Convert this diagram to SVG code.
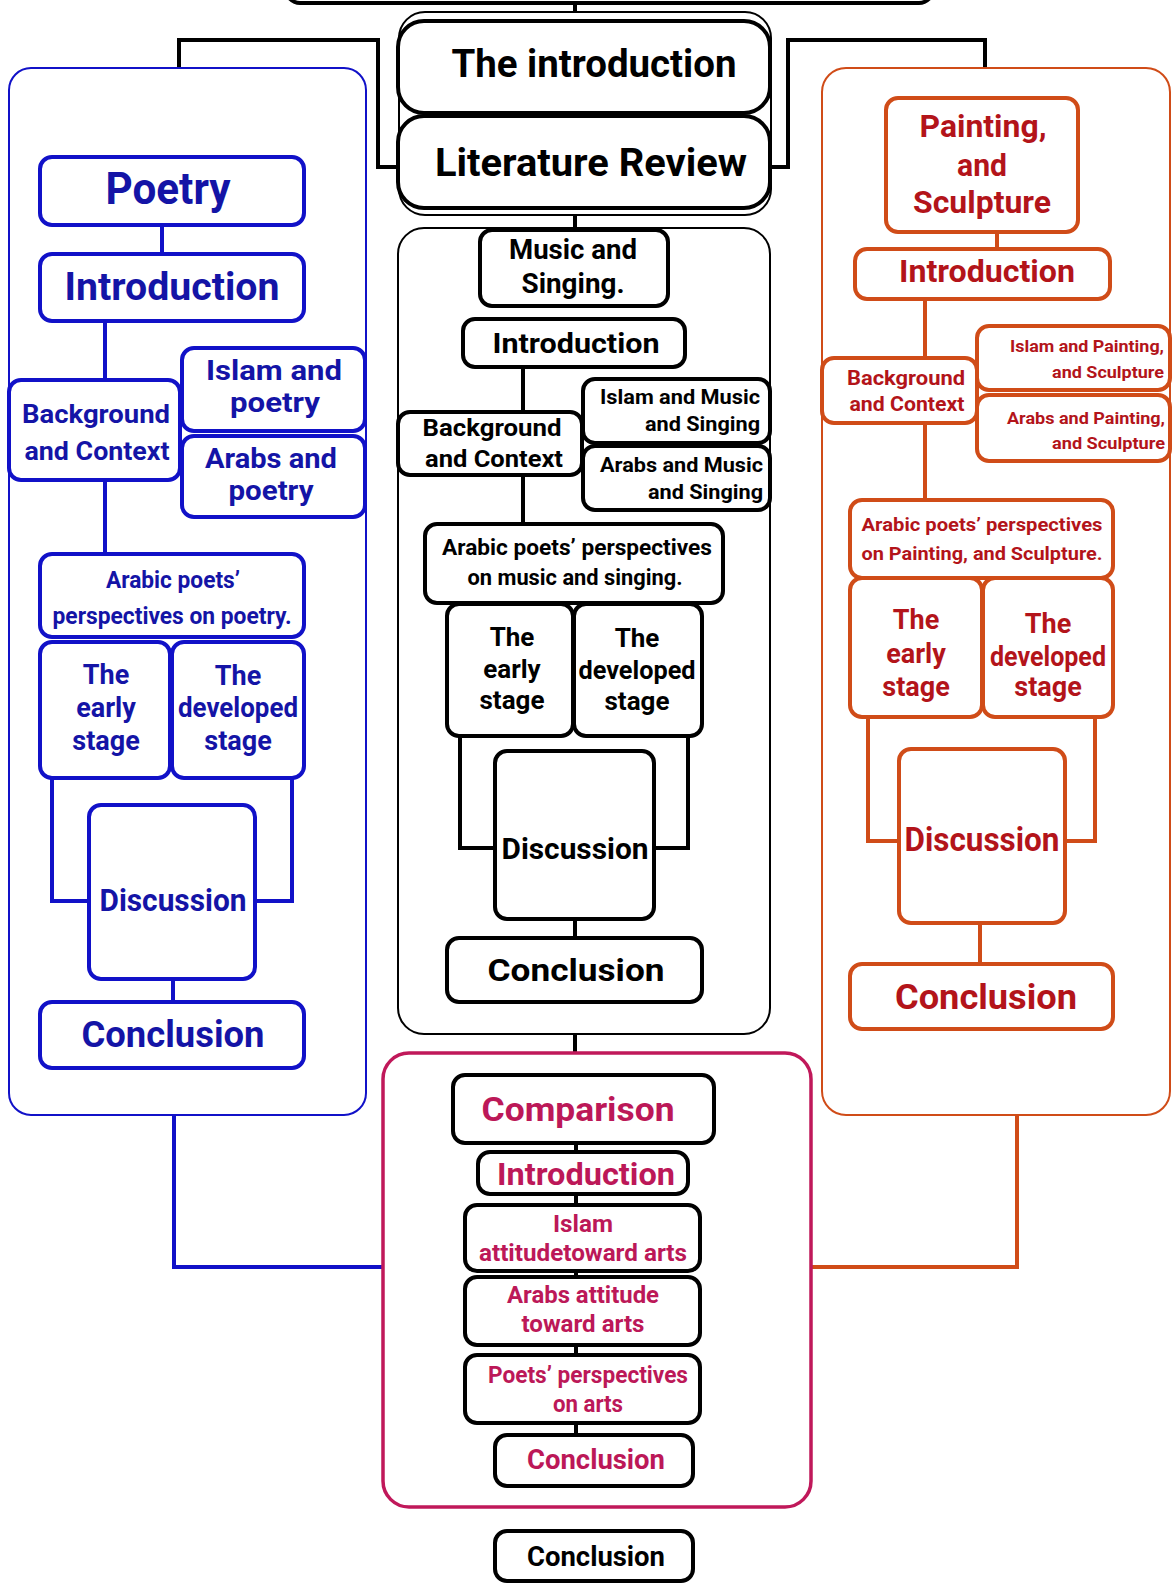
<svg xmlns="http://www.w3.org/2000/svg" width="1172" height="1583" viewBox="0 0 1172 1583">
<style>
text{font-family:Roboto,"Liberation Sans",sans-serif;font-weight:700;text-anchor:middle}
.n{fill:#fff;stroke-width:4}
.k{stroke:#000}
.b{stroke:#1111c8}
.o{stroke:#d04c18}
.bt{fill:#1414a6}
.ot{fill:#b3141a}
.ct{fill:#bc1858}
.kt{fill:#000}
.e{text-anchor:end}
.cont{fill:none;stroke-width:2}
.ln{fill:none;stroke-width:4}
</style>
<rect id="top" class="n k" x="286" y="-40" width="647" height="43" rx="14"/>
<g id="connectors">
<path class="ln k" d="M575,2V12M179,68V40H378V167H399M985,68V40H788V167H771M575,215V228M575,1034V1053"/>
<path class="ln k" d="M523,367V412M523,475V524M460,736V848H495M688,736V848H654M575,919V938"/>
<path class="ln k" d="M576,1143V1152M576,1194V1205M576,1271V1277M576,1345V1355M576,1423V1435"/>
<path class="ln b" d="M162,225V254M105,321V380M105,480V554M52,778V901H89M292,778V901H255M173,979V1002M174,1115V1267H383"/>
<path class="ln o" d="M997,232V249M925,299V358M925,423V500M868,717V841H899M1095,717V841H1065M980,923V964M1017,1115V1267H811"/>
</g>
<g id="intro-group">
<rect class="cont k" x="399" y="12" width="372" height="203" rx="26"/>
<g id="introduction"><rect class="n k" x="398" y="21" width="372" height="92" rx="26"/><text class="kt" x="594" y="77" font-size="39" textLength="285" lengthAdjust="spacingAndGlyphs">The introduction</text></g>
<g id="literature"><rect class="n k" x="398" y="116" width="372" height="92" rx="26"/><text class="kt" x="591" y="176" font-size="39" textLength="312" lengthAdjust="spacingAndGlyphs">Literature Review</text></g>
</g>
<g id="music">
<rect class="cont k" x="398" y="228" width="372" height="806" rx="26"/>
<g id="m-title"><rect class="n k" x="480" y="230" width="188" height="76" rx="12"/><text class="kt" x="573" y="259" font-size="27" textLength="128" lengthAdjust="spacingAndGlyphs">Music and</text><text class="kt" x="573" y="293" font-size="27" textLength="103" lengthAdjust="spacingAndGlyphs">Singing.</text></g>
<g id="m-intro"><rect class="n k" x="463" y="319" width="222" height="48" rx="12"/><text class="kt" x="576" y="353" font-size="28" textLength="167" lengthAdjust="spacingAndGlyphs">Introduction</text></g>
<g id="m-bg"><rect class="n k" x="398" y="412" width="184" height="63" rx="12"/><text class="kt" x="492" y="436" font-size="24" textLength="139" lengthAdjust="spacingAndGlyphs">Background</text><text class="kt" x="494" y="467" font-size="24" textLength="138" lengthAdjust="spacingAndGlyphs">and Context</text></g>
<g id="m-islam"><rect class="n k" x="583" y="379" width="187" height="64" rx="12"/><text class="kt e" x="760" y="404" font-size="20" textLength="160" lengthAdjust="spacingAndGlyphs">Islam and Music</text><text class="kt e" x="760" y="431" font-size="20" textLength="115" lengthAdjust="spacingAndGlyphs">and Singing</text></g>
<g id="m-arabs"><rect class="n k" x="583" y="446" width="187" height="64" rx="12"/><text class="kt e" x="763" y="472" font-size="20" textLength="163" lengthAdjust="spacingAndGlyphs">Arabs and Music</text><text class="kt e" x="763" y="499" font-size="20" textLength="115" lengthAdjust="spacingAndGlyphs">and Singing</text></g>
<g id="m-poets"><rect class="n k" x="425" y="524" width="298" height="79" rx="12"/><text class="kt" x="577" y="555" font-size="22" textLength="270" lengthAdjust="spacingAndGlyphs">Arabic poets’ perspectives</text><text class="kt" x="575" y="585" font-size="22" textLength="215" lengthAdjust="spacingAndGlyphs">on music and singing.</text></g>
<g id="m-early"><rect class="n k" x="447" y="604" width="126" height="132" rx="12"/><text class="kt" x="512" y="646" font-size="26">The</text><text class="kt" x="512" y="678" font-size="26">early</text><text class="kt" x="512" y="709" font-size="26">stage</text></g>
<g id="m-dev"><rect class="n k" x="574" y="604" width="128" height="132" rx="12"/><text class="kt" x="637" y="647" font-size="26">The</text><text class="kt" x="637" y="679" font-size="26" textLength="117" lengthAdjust="spacingAndGlyphs">developed</text><text class="kt" x="637" y="710" font-size="26">stage</text></g>
<g id="m-disc"><rect class="n k" x="495" y="751" width="159" height="168" rx="12"/><text class="kt" x="575" y="859" font-size="29" textLength="147" lengthAdjust="spacingAndGlyphs">Discussion</text></g>
<g id="m-concl"><rect class="n k" x="447" y="938" width="255" height="64" rx="12"/><text class="kt" x="576" y="981" font-size="32" textLength="177" lengthAdjust="spacingAndGlyphs">Conclusion</text></g>
</g>
<g id="poetry">
<rect class="cont b" x="9" y="68" width="357" height="1047" rx="22"/>
<g id="p-title"><rect class="n b" x="40" y="157" width="264" height="68" rx="12"/><text class="bt" x="168" y="204" font-size="45" textLength="125" lengthAdjust="spacingAndGlyphs">Poetry</text></g>
<g id="p-intro"><rect class="n b" x="40" y="254" width="264" height="67" rx="12"/><text class="bt" x="172" y="300" font-size="39" textLength="215" lengthAdjust="spacingAndGlyphs">Introduction</text></g>
<g id="p-bg"><rect class="n b" x="9" y="380" width="171" height="100" rx="12"/><text class="bt" x="96" y="423" font-size="26" textLength="148" lengthAdjust="spacingAndGlyphs">Background</text><text class="bt" x="97" y="460" font-size="26" textLength="145" lengthAdjust="spacingAndGlyphs">and Context</text></g>
<g id="p-islam"><rect class="n b" x="182" y="348" width="183" height="83" rx="12"/><text class="bt" x="274" y="380" font-size="28" textLength="136" lengthAdjust="spacingAndGlyphs">Islam and</text><text class="bt" x="275" y="412" font-size="28" textLength="90" lengthAdjust="spacingAndGlyphs">poetry</text></g>
<g id="p-arabs"><rect class="n b" x="182" y="436" width="183" height="81" rx="12"/><text class="bt" x="271" y="468" font-size="28" textLength="132" lengthAdjust="spacingAndGlyphs">Arabs and</text><text class="bt" x="271" y="500" font-size="28" textLength="85" lengthAdjust="spacingAndGlyphs">poetry</text></g>
<g id="p-poets"><rect class="n b" x="40" y="554" width="264" height="83" rx="12"/><text class="bt" x="173" y="588" font-size="23" textLength="134" lengthAdjust="spacingAndGlyphs">Arabic poets’</text><text class="bt" x="172" y="624" font-size="23" textLength="239" lengthAdjust="spacingAndGlyphs">perspectives on poetry.</text></g>
<g id="p-early"><rect class="n b" x="40" y="642" width="130" height="136" rx="12"/><text class="bt" x="106" y="684" font-size="27">The</text><text class="bt" x="106" y="717" font-size="27">early</text><text class="bt" x="106" y="750" font-size="27">stage</text></g>
<g id="p-dev"><rect class="n b" x="172" y="642" width="132" height="136" rx="12"/><text class="bt" x="238" y="685" font-size="27">The</text><text class="bt" x="238" y="717" font-size="27" textLength="120" lengthAdjust="spacingAndGlyphs">developed</text><text class="bt" x="238" y="750" font-size="27">stage</text></g>
<g id="p-disc"><rect class="n b" x="89" y="805" width="166" height="174" rx="12"/><text class="bt" x="173" y="911" font-size="31" textLength="147" lengthAdjust="spacingAndGlyphs">Discussion</text></g>
<g id="p-concl"><rect class="n b" x="40" y="1002" width="264" height="66" rx="12"/><text class="bt" x="173" y="1047" font-size="36" textLength="183" lengthAdjust="spacingAndGlyphs">Conclusion</text></g>
</g>
<g id="painting">
<rect class="cont o" x="822" y="68" width="348" height="1047" rx="24"/>
<g id="a-title"><rect class="n o" x="886" y="98" width="192" height="134" rx="12"/><text class="ot" x="983" y="137" font-size="31" textLength="127" lengthAdjust="spacingAndGlyphs">Painting,</text><text class="ot" x="982" y="176" font-size="31" textLength="50" lengthAdjust="spacingAndGlyphs">and</text><text class="ot" x="982" y="213" font-size="31" textLength="138" lengthAdjust="spacingAndGlyphs">Sculpture</text></g>
<g id="a-intro"><rect class="n o" x="855" y="249" width="255" height="50" rx="12"/><text class="ot" x="987" y="282" font-size="31" textLength="176" lengthAdjust="spacingAndGlyphs">Introduction</text></g>
<g id="a-bg"><rect class="n o" x="822" y="358" width="155" height="65" rx="12"/><text class="ot" x="906" y="385" font-size="21" textLength="118" lengthAdjust="spacingAndGlyphs">Background</text><text class="ot" x="907" y="411" font-size="21" textLength="115" lengthAdjust="spacingAndGlyphs">and Context</text></g>
<g id="a-islam"><rect class="n o" x="977" y="326" width="193" height="64" rx="12"/><text class="ot e" x="1164" y="352" font-size="17" textLength="154" lengthAdjust="spacingAndGlyphs">Islam and Painting,</text><text class="ot e" x="1164" y="378" font-size="17" textLength="112" lengthAdjust="spacingAndGlyphs">and Sculpture</text></g>
<g id="a-arabs"><rect class="n o" x="977" y="395" width="193" height="66" rx="12"/><text class="ot e" x="1165" y="424" font-size="17" textLength="158" lengthAdjust="spacingAndGlyphs">Arabs and Painting,</text><text class="ot e" x="1165" y="449" font-size="17" textLength="113" lengthAdjust="spacingAndGlyphs">and Sculpture</text></g>
<g id="a-poets"><rect class="n o" x="850" y="500" width="263" height="78" rx="12"/><text class="ot" x="982" y="531" font-size="19" textLength="241" lengthAdjust="spacingAndGlyphs">Arabic poets’ perspectives</text><text class="ot" x="982" y="560" font-size="19" textLength="241" lengthAdjust="spacingAndGlyphs">on Painting, and Sculpture.</text></g>
<g id="a-early"><rect class="n o" x="850" y="578" width="132" height="139" rx="12"/><text class="ot" x="916" y="629" font-size="27">The</text><text class="ot" x="916" y="663" font-size="27">early</text><text class="ot" x="916" y="696" font-size="27">stage</text></g>
<g id="a-dev"><rect class="n o" x="983" y="578" width="130" height="139" rx="12"/><text class="ot" x="1048" y="633" font-size="27">The</text><text class="ot" x="1048" y="666" font-size="27" textLength="116" lengthAdjust="spacingAndGlyphs">developed</text><text class="ot" x="1048" y="696" font-size="27">stage</text></g>
<g id="a-disc"><rect class="n o" x="899" y="749" width="166" height="174" rx="12"/><text class="ot" x="982" y="851" font-size="33" textLength="155" lengthAdjust="spacingAndGlyphs">Discussion</text></g>
<g id="a-concl"><rect class="n o" x="850" y="964" width="263" height="65" rx="12"/><text class="ot" x="986" y="1009" font-size="35" textLength="182" lengthAdjust="spacingAndGlyphs">Conclusion</text></g>
</g>
<g id="comparison">
<rect fill="none" stroke="#c0185a" stroke-width="3.5" x="383" y="1053" width="428" height="454" rx="26"/>
<g id="c-title"><rect class="n k" x="453" y="1075" width="261" height="68" rx="12"/><text class="ct" x="578" y="1121" font-size="34" textLength="193" lengthAdjust="spacingAndGlyphs">Comparison</text></g>
<g id="c-intro"><rect class="n k" x="478" y="1152" width="210" height="42" rx="12"/><text class="ct" x="586" y="1185" font-size="31" textLength="178" lengthAdjust="spacingAndGlyphs">Introduction</text></g>
<g id="c-islam"><rect class="n k" x="465" y="1205" width="235" height="66" rx="12"/><text class="ct" x="583" y="1232" font-size="24" textLength="60" lengthAdjust="spacingAndGlyphs">Islam</text><text class="ct" x="583" y="1261" font-size="24" textLength="208" lengthAdjust="spacingAndGlyphs">attitudetoward arts</text></g>
<g id="c-arabs"><rect class="n k" x="465" y="1277" width="235" height="68" rx="12"/><text class="ct" x="583" y="1303" font-size="24" textLength="152" lengthAdjust="spacingAndGlyphs">Arabs attitude</text><text class="ct" x="583" y="1332" font-size="24" textLength="123" lengthAdjust="spacingAndGlyphs">toward arts</text></g>
<g id="c-poets"><rect class="n k" x="465" y="1355" width="235" height="68" rx="12"/><text class="ct" x="588" y="1383" font-size="24" textLength="200" lengthAdjust="spacingAndGlyphs">Poets’ perspectives</text><text class="ct" x="588" y="1412" font-size="24" textLength="70" lengthAdjust="spacingAndGlyphs">on arts</text></g>
<g id="c-concl"><rect class="n k" x="495" y="1435" width="198" height="51" rx="12"/><text class="ct" x="596" y="1469" font-size="27" textLength="138" lengthAdjust="spacingAndGlyphs">Conclusion</text></g>
</g>
<g id="final-conclusion"><rect class="n k" x="495" y="1531" width="198" height="50" rx="12"/><text class="kt" x="596" y="1566" font-size="27" textLength="138" lengthAdjust="spacingAndGlyphs">Conclusion</text></g>
</svg>
